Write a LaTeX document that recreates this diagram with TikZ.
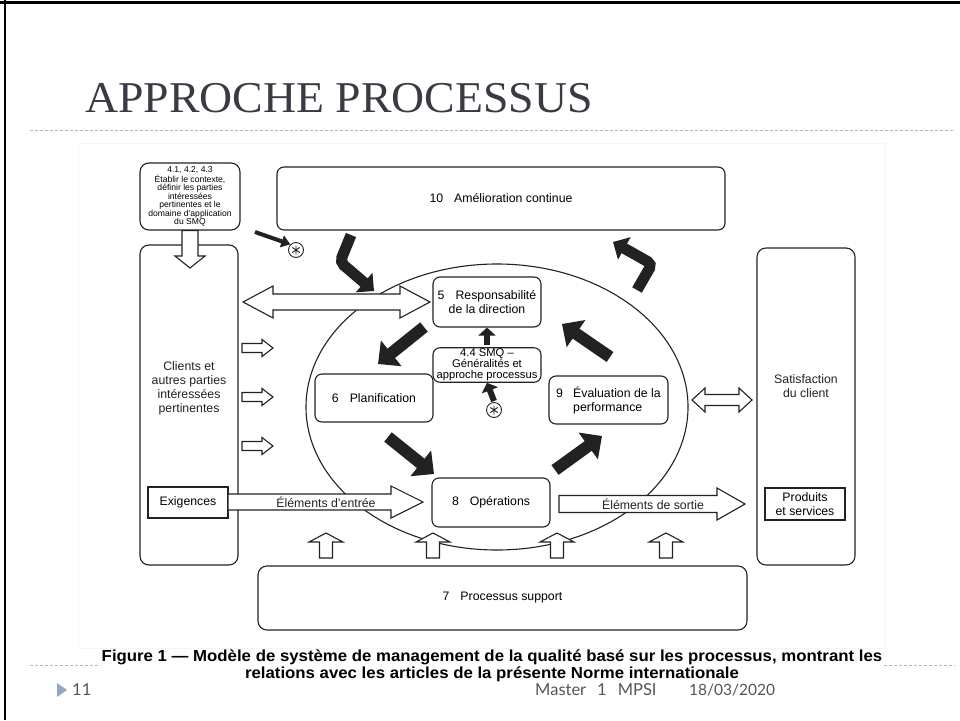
\documentclass[tikz,border=0pt]{standalone}
\usepackage{fontspec}
\setmainfont{Liberation Sans}
\newfontfamily\titlefont{Liberation Serif}
\newfontfamily\footfont{Lato}
\usetikzlibrary{calc,arrows.meta}
\definecolor{titlegray}{HTML}{3A3A42}
\definecolor{dashblue}{HTML}{A5BCD2}
\definecolor{footgray}{HTML}{555555}
\definecolor{tricol}{HTML}{8CA8C4}
\definecolor{ink}{HTML}{222222}
% single hollow block arrow: start, tip, shaft half-width, head half-width, head length
\newcommand{\hollowarrow}[5]{%
  \coordinate (hb) at ($(#2)!#5!(#1)$);
  \draw[hollow] ($(#1)!#3!90:(#2)$) -- ($(hb)!#3!90:(#2)$) -- ($(hb)!#4!90:(#2)$) -- (#2)
    -- ($(hb)!#4!-90:(#2)$) -- ($(hb)!#3!-90:(#2)$) -- ($(#1)!#3!-90:(#2)$) -- cycle;}
% double hollow block arrow
\newcommand{\hollowdouble}[5]{%
  \coordinate (ha) at ($(#1)!#5!(#2)$);
  \coordinate (hb) at ($(#2)!#5!(#1)$);
  \draw[hollow] (#1) -- ($(ha)!#4!90:(#2)$) -- ($(ha)!#3!90:(#2)$) -- ($(hb)!#3!90:(#2)$)
    -- ($(hb)!#4!90:(#2)$) -- (#2) -- ($(hb)!#4!-90:(#2)$) -- ($(hb)!#3!-90:(#2)$)
    -- ($(ha)!#3!-90:(#2)$) -- ($(ha)!#4!-90:(#2)$) -- cycle;}
\newcommand{\astmark}[1]{%
  \draw[ink, line width=0.9pt] ($(#1)+(90:4.5)$) -- ($(#1)+(270:4.5)$)
    ($(#1)+(35:4.5)$) -- ($(#1)+(215:4.5)$) ($(#1)+(145:4.5)$) -- ($(#1)+(325:4.5)$);}
\tikzset{
  fig/.style={draw=ink, line width=1.1pt, fill=white},
  rbox/.style={fig, rounded corners=7pt, inner sep=1pt, align=center, font=\fontsize{12.3}{14}\selectfont},
  sbox/.style={fig, sharp corners, inner sep=1pt, align=center, font=\fontsize{12.3}{13.5}\selectfont},
  lbl/.style={inner sep=0pt, align=center, font=\fontsize{12.3}{14}\selectfont, text=ink},
  hollow/.style={fig, sharp corners, line join=miter},
  blk/.style={ink, line width=12pt, -{Triangle[length=17pt,width=32pt]}},
  blkcurve/.style={ink, line width=11pt, rounded corners=5pt, -{Triangle[length=13pt,width=25pt]}},
  blksmall/.style={ink, line width=6pt, -{Triangle[length=8pt,width=17pt]}},
  astc/.style={circle, draw=ink, line width=0.9pt, fill=white, minimum size=15pt, inner sep=0pt},
  footer/.style={anchor=west, inner sep=0pt, text=footgray, font=\footfont\fontsize{16.5}{16.5}\selectfont},
}
\begin{document}
\begin{tikzpicture}[x=1pt,y=-1pt]
\useasboundingbox (0,0) rectangle (960,720);
\fill[white] (0,0) rectangle (960,720);
% slide frame
\draw[black, line width=3pt] (0,2) -- (960,2);
\draw[black, line width=2.5pt] (5,0) -- (5,720);
% title
\node[anchor=base west, inner sep=0pt, text=titlegray, font=\titlefont\fontsize{44}{44}\selectfont] (title) at (85,112) {\scalebox{1.04}[1]{APPROCHE PROCESSUS}};
\draw[dashblue, line width=0.9pt, dash pattern=on 3pt off 2pt] (30,130) -- (955,130);
% footer dashes
\draw[dashblue, line width=0.9pt, dash pattern=on 3pt off 2pt] (30,665) -- (100,665);
\draw[dashblue, line width=0.9pt, dash pattern=on 3pt off 2pt] (884,665) -- (955,665);
% figure area
\draw[black!4, fill=white] (78,143) rectangle (885,648);

% cycle ellipse
\draw[ink, line width=1.1pt] (497,407) ellipse [x radius=191, y radius=143];

% boxes
\node[rbox, minimum width=100pt, minimum height=67pt, rounded corners=9pt, font=\fontsize{8.6}{8.5}\selectfont] (ctx) at (190,196.5)
  {4.1, 4.2, 4.3\\Établir le contexte,\\définir les parties\\intéressées\\pertinentes et le\\domaine d'application\\du SMQ};
\node[rbox, minimum width=448pt, minimum height=63pt] (amel) at (501,198.5) {10\hspace{11pt}Amélioration continue};
\node[rbox, minimum width=98pt, minimum height=320pt, rounded corners=9pt] (clients) at (189,405) {};
\node[lbl] (clientslbl) at (189,388) {Clients et\\autres parties\\intéressées\\pertinentes};
\node[rbox, minimum width=98pt, minimum height=317pt, rounded corners=9pt] (satis) at (806,406.5) {};
\node[lbl] (satislbl) at (806,386) {Satisfaction\\du client};
\node[sbox, minimum width=80pt, minimum height=31pt] (exig) at (188,502.5) {Exigences};
\node[sbox, minimum width=80pt, minimum height=32pt] (prod) at (805,504) {Produits\\et services};
\node[rbox, minimum width=489pt, minimum height=64pt, rounded corners=9pt] (support) at (502.5,598) {7\hspace{11pt}Processus support};
\node[rbox, minimum width=108pt, minimum height=50pt] (resp) at (487,302) {5\hspace{11pt}Responsabilité\\de la direction};
\node[rbox, minimum width=108pt, minimum height=32pt, font=\fontsize{11.2}{11.2}\selectfont] (smq) at (487,365) {4.4 SMQ –\\Généralités et\\approche processus};
\node[rbox, minimum width=118pt, minimum height=48pt] (plan) at (374,398) {6\hspace{11pt}Planification};
\node[rbox, minimum width=119pt, minimum height=48pt, align=left] (eval) at (608.5,400) {\makebox[17pt][l]{9}Évaluation de la\\\hspace*{17pt}performance};
\node[rbox, minimum width=118pt, minimum height=49pt] (oper) at (491,502.5) {8\hspace{11pt}Opérations};

% hollow arrows
\coordinate (ctxtip) at (190,268);
\hollowarrow{ctx.south}{ctxtip}{8pt}{15pt}{12pt}
\coordinate (d1a) at (243,302);
\coordinate (d1b) at (430,302);
\hollowdouble{d1a}{d1b}{8pt}{16pt}{30pt}
\foreach \yy [count=\i] in {348,397,446}{
  \coordinate (sa\i) at (242,\yy);
  \coordinate (sb\i) at (273,\yy);
  \hollowarrow{sa\i}{sb\i}{4.5pt}{8.5pt}{11pt}
}
\coordinate (entA) at (228,502);
\coordinate (entB) at (423,502);
\hollowarrow{entA}{entB}{8pt}{16pt}{32pt}
\node[lbl] (entlbl) at (326,502) {Éléments d'entrée};
\coordinate (sorA) at (559,504);
\coordinate (sorB) at (745,504);
\hollowarrow{sorA}{sorB}{8.5pt}{16pt}{28pt}
\node[lbl] (sorlbl) at (653,504) {Éléments de sortie};
\coordinate (d2a) at (692,400);
\coordinate (d2b) at (752,400);
\hollowdouble{d2a}{d2b}{5.5pt}{12pt}{13pt}
\foreach \xx [count=\i] in {326,433,557,666}{
  \coordinate (ua\i) at (\xx,558);
  \coordinate (ub\i) at (\xx,533);
  \hollowarrow{ua\i}{ub\i}{6.5pt}{17pt}{9pt}
}

% black arrows of the cycle
\coordinate (a1s) at (424,327); \coordinate (a1e) at (378,364);
\coordinate (a2s) at (388,437); \coordinate (a2e) at (434,474);
\coordinate (a3s) at (555,470); \coordinate (a3e) at (602,436);
\coordinate (a4s) at (610,357); \coordinate (a4e) at (562,324);
\draw[blk] (a1s) -- (a1e);
\draw[blk] (a2s) -- (a2e);
\draw[blk] (a3s) -- (a3e);
\draw[blk] (a4s) -- (a4e);
% curved arrows
\coordinate (c1s) at (351,235); \coordinate (c1m) at (340,262); \coordinate (c1e) at (374,291);
\draw[blkcurve] (c1s) -- (c1m) -- (c1e);
\coordinate (c2s) at (637,290); \coordinate (c2m) at (652,264); \coordinate (c2e) at (613,242);
\draw[blkcurve] (c2s) -- (c2m) -- (c2e);
% asterisks
\node[astc] (ast1) at (296,250) {};
\astmark{ast1}
\coordinate (pst) at (255,232);
\draw[ink, line width=4pt, -{Triangle[length=9pt,width=12pt]}] (pst) -- (ast1.north west);
\node[astc] (ast2) at (494,410) {};
\astmark{ast2}
\draw[blksmall] (ast2.north) ++(0,-1) -- (smq.south);
\draw[blksmall] (smq.north) ++(0,-2) -- (resp.south);

% caption
\node[inner sep=0pt, align=center, text=black, font=\bfseries\fontsize{16}{16.5}\selectfont] (caption) at (492,666)
  {\scalebox{1.05}[1]{Figure 1 — Modèle de système de management de la qualité basé sur les processus, montrant les}\\\scalebox{1.05}[1]{relations avec les articles de la présente Norme internationale}};

% footer
\fill[tricol] (57,683) -- (67,690) -- (57,697) -- cycle;
\node[footer] (pnum) at (72,690) {11};
\node[footer] (foot) at (535,690) {Master\hspace{11pt}1\hspace{11pt}MPSI};
\node[footer, font=\footfont\fontsize{15.5}{15.5}\selectfont] (date) at (689,690) {18/03/2020};
\end{tikzpicture}
\end{document}
